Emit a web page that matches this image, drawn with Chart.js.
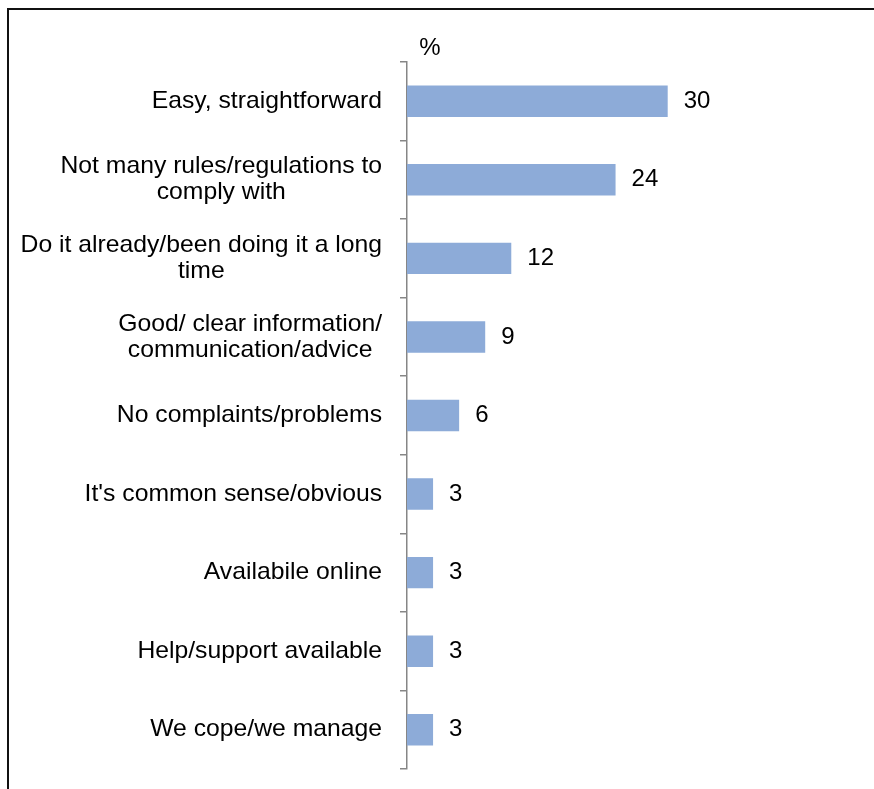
<!DOCTYPE html>
<html>
<head>
<meta charset="utf-8">
<script src="https://cdn.jsdelivr.net/npm/chart.js@4"></script>
<style>
    body { margin: 0; background: #fff; overflow: hidden; }
    #wrap { position: relative; width: 874px; height: 789px; }
    #frame { position: absolute; left: 7px; top: 8px; width: 900px; height: 900px;
             border-left: 2px solid #111; border-top: 2px solid #111; }
    #reasons { position: absolute; left: 0; top: 0; }
</style>
</head>
<body>
<div id="wrap">
    <div id="frame"></div>
    <canvas id="reasons" width="874" height="789"></canvas>
</div>
<script>
var categories = [
    ['Easy, straightforward'],
    ['Not many rules/regulations to', 'comply with'],
    ['Do it already/been doing it a long', 'time'],
    ['Good/ clear information/', 'communication/advice'],
    ['No complaints/problems'],
    ["It's common sense/obvious"],
    ['Availabile online'],
    ['Help/support available'],
    ['We cope/we manage']
];
var percents = [30, 24, 12, 9, 6, 3, 3, 3, 3];
var unitLabel = '%';

var FONT = '24px "Liberation Sans", Arial, sans-serif';
var LINE_H = 26;
var STRETCH = 1.03;

// category names, each block centred on itself and right-aligned to the axis
var categoryText = {
    id: 'categoryText',
    afterDraw: function (chart) {
        var ctx = chart.ctx;
        var y = chart.scales.y;
        var right = y.right - 25;
        ctx.save();
        ctx.font = FONT;
        ctx.fillStyle = '#000';
        ctx.textAlign = 'center';
        ctx.textBaseline = 'middle';
        ctx.fillText(unitLabel, y.right + 23, chart.chartArea.top - 14);
        ctx.scale(STRETCH, 1);
        categories.forEach(function (lines, i) {
            var w = 0;
            lines.forEach(function (l) { w = Math.max(w, ctx.measureText(l).width * STRETCH); });
            var cx = (right - w / 2) / STRETCH;
            var cy = y.getPixelForTick(i) - (lines.length - 1) * LINE_H / 2;
            lines.forEach(function (l, k) {
                ctx.fillText(l, cx, cy + k * LINE_H);
            });
        });
        ctx.restore();
    }
};

var valueText = {
    id: 'valueText',
    afterDatasetsDraw: function (chart) {
        var ctx = chart.ctx;
        var meta = chart.getDatasetMeta(0);
        ctx.save();
        ctx.font = FONT;
        ctx.fillStyle = '#000';
        ctx.textAlign = 'left';
        ctx.textBaseline = 'middle';
        meta.data.forEach(function (bar, i) {
            ctx.fillText(percents[i], bar.x + 16, bar.y);
        });
        ctx.restore();
    }
};

new Chart(document.getElementById('reasons').getContext('2d'), {
    type: 'bar',
    data: {
        labels: categories,
        datasets: [{
            data: percents,
            backgroundColor: '#8DABD8',
            borderWidth: 0,
            barPercentage: 0.4,
            categoryPercentage: 1
        }]
    },
    options: {
        indexAxis: 'y',
        responsive: false,
        animation: false,
        layout: { padding: { top: 62, bottom: 20, left: 0, right: 32.5 } },
        plugins: {
            legend: { display: false },
            tooltip: { enabled: false }
        },
        scales: {
            x: {
                display: false,
                min: 0,
                max: 50
            },
            y: {
                afterFit: function (s) { s.width = 407; },
                ticks: { display: false },
                border: { display: true, color: '#868686', width: 1.5 },
                grid: {
                    offset: true,
                    drawOnChartArea: false,
                    drawTicks: true,
                    tickLength: 7,
                    color: '#868686',
                    lineWidth: 1.5
                }
            }
        }
    },
    plugins: [categoryText, valueText]
});
</script>
</body>
</html>
